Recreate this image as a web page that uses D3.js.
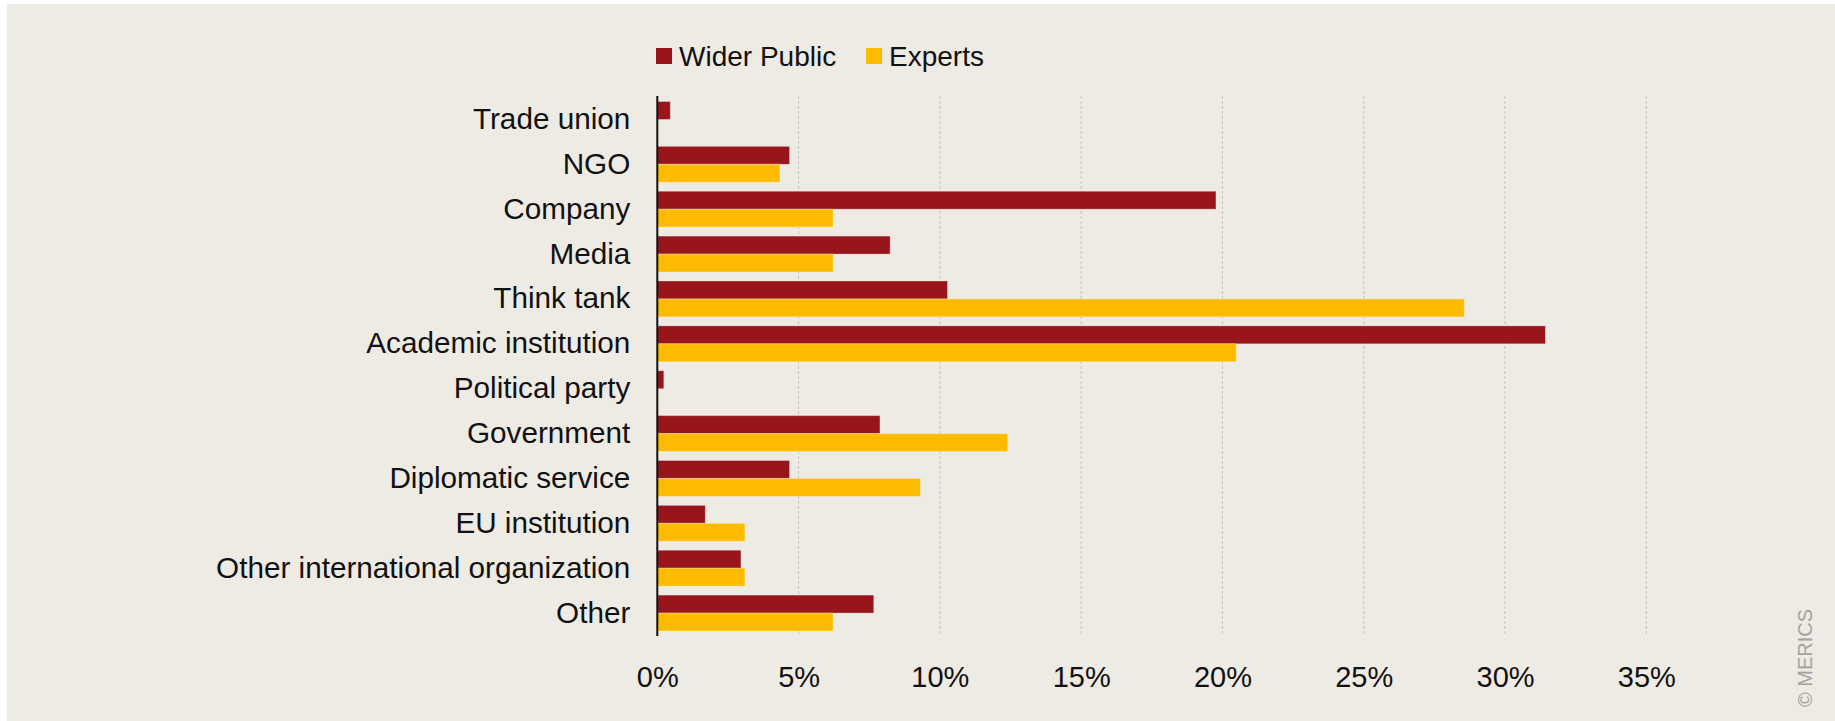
<!DOCTYPE html>
<html>
<head>
<meta charset="utf-8">
<script src="https://cdn.jsdelivr.net/npm/d3@7"></script>
<style>
  html, body { margin: 0; padding: 0; background: #fff; }
  svg { display: block; }
  text { font-family: "Liberation Sans", Arial, sans-serif; fill: #111; }
</style>
</head>
<body>
<svg id="chart"></svg>
<script>
const categories = [
  "Trade union", "NGO", "Company", "Media", "Think tank", "Academic institution",
  "Political party", "Government", "Diplomatic service", "EU institution",
  "Other international organization", "Other"
];
const widerPublic = [0.46, 4.68, 19.77, 8.24, 10.27, 31.43, 0.23, 7.88, 4.68, 1.70, 2.96, 7.66];
const experts = [0, 4.34, 6.22, 6.22, 28.56, 20.49, 0, 12.40, 9.31, 3.10, 3.10, 6.22];
const seriesNames = ["Wider Public", "Experts"];
const seriesColors = ["#98151b", "#fdbb00"];
const xTicks = [0, 5, 10, 15, 20, 25, 30, 35];

const width = 1835;
const height = 721;

const svg = d3.select("#chart").attr("width", width).attr("height", height);

// beige panel
svg.append("rect")
  .attr("x", 7).attr("y", 4)
  .attr("width", width - 7).attr("height", height - 4)
  .attr("fill", "#eeeae4");

const x = d3.scaleLinear().domain([0, 35]).range([657.3, 1646.3]);

const y = d3.scaleBand()
  .domain(categories)
  .range([97, 635.5])
  .paddingInner(0.2)
  .paddingOuter(0.1);

const ySub = d3.scaleBand()
  .domain(seriesNames)
  .range([0, y.bandwidth()]);

// gridlines
svg.append("g")
  .selectAll("line")
  .data(xTicks.slice(1))
  .enter().append("line")
  .attr("x1", d => x(d)).attr("x2", d => x(d))
  .attr("y1", 96).attr("y2", 636)
  .attr("stroke", "#c4c4c4")
  .attr("stroke-width", 1)
  .attr("stroke-dasharray", "3,2");

// bars
const rows = categories.map((c, i) => ({ cat: c, vals: [widerPublic[i], experts[i]] }));

const groups = svg.append("g")
  .selectAll("g")
  .data(rows)
  .enter().append("g")
  .attr("transform", d => `translate(0,${y(d.cat)})`);

groups.selectAll("rect")
  .data(d => d.vals.map((v, j) => ({ v, name: seriesNames[j], color: seriesColors[j] })))
  .enter().append("rect")
  .filter(d => d.v > 0)
  .attr("x", x(0))
  .attr("y", d => ySub(d.name))
  .attr("width", d => x(d.v) - x(0))
  .attr("height", ySub.bandwidth())
  .attr("fill", d => d.color)
  .attr("stroke", "rgba(255,255,255,0.3)")
  .attr("stroke-width", 1);

// y axis
const yAxis = svg.append("g")
  .attr("transform", `translate(${x(0)},0)`)
  .call(d3.axisLeft(y).tickSize(0).tickPadding(27));
yAxis.select(".domain")
  .attr("d", `M0,96V636`)
  .attr("stroke", "#111")
  .attr("stroke-width", 2);
yAxis.selectAll("text")
  .attr("font-size", 29.7)
  .attr("font-family", null)
  .attr("fill", "#111");

// x axis labels
const xAxis = svg.append("g")
  .attr("transform", `translate(0,666)`)
  .call(d3.axisBottom(x).tickValues(xTicks).tickFormat(d => d + "%").tickSize(0).tickPadding(0));
xAxis.select(".domain").remove();
xAxis.selectAll("text")
  .attr("font-size", 29)
  .attr("font-family", null)
  .attr("fill", "#111");

// legend
const legend = svg.append("g");
const legendX = [656, 866];
seriesNames.forEach((name, i) => {
  legend.append("rect")
    .attr("x", legendX[i]).attr("y", 48)
    .attr("width", 16).attr("height", 16)
    .attr("fill", seriesColors[i]);
  legend.append("text")
    .attr("x", legendX[i] + 23).attr("y", 65.5)
    .attr("font-size", 28)
    .text(name);
});

// copyright
svg.append("text")
  .attr("transform", "translate(1812,707) rotate(-90)")
  .attr("font-size", 20)
  .style("fill", "#a3a3a3")
  .text("© MERICS");
</script>
</body>
</html>
